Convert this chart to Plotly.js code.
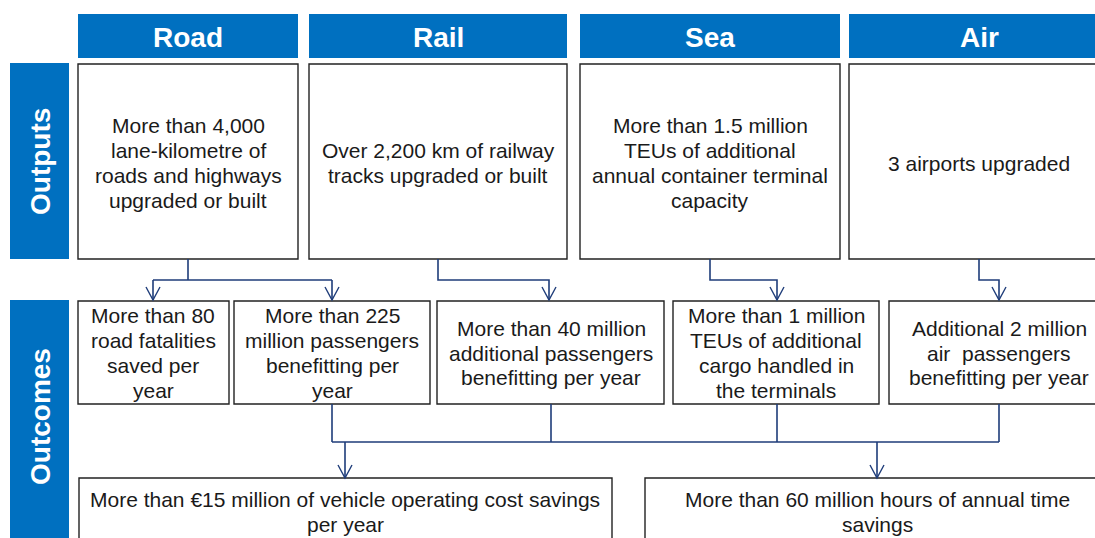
<!DOCTYPE html>
<html>
<head>
<meta charset="utf-8">
<script src="https://cdn.plot.ly/plotly-3.0.1.min.js"></script>
<style>html,body{margin:0;padding:0;background:#fff;}#chart{width:1095px;height:538px;}</style>
</head>
<body>
<div id="chart"></div>
<script>
// ---- content ----
const modes = ["Road", "Rail", "Sea", "Air"];
const rowLabels = ["Outputs", "Outcomes"];
const outputs = [
  "More than 4,000<br>lane-kilometre of<br>roads and highways<br>upgraded or built",
  "Over 2,200 km of railway<br>tracks upgraded or built",
  "More than 1.5 million<br>TEUs of additional<br>annual container terminal<br>capacity",
  "3 airports upgraded"
];
const outcomes = [
  "More than 80<br>road fatalities<br>saved per<br>year",
  "More than 225<br>million passengers<br>benefitting per<br>year",
  "More than 40 million<br>additional passengers<br>benefitting per year",
  "More than 1 million<br>TEUs of additional<br>cargo handled in<br>the terminals",
  "Additional 2 million<br>air  passengers<br>benefitting per year"
];
const impacts = [
  "More than €15 million of vehicle operating cost savings<br>per year",
  "More than 60 million hours of annual time<br>savings"
];

// ---- layout geometry ----
const BLUE = "#0070C0", NAVY = "#1F3D7A", INK = "#1a1a1a";
const FONT = "Liberation Sans, Arial, sans-serif";
const headerX = [[78, 298], [309, 567], [580, 840], [849, 1100]];
const headerTextX = [188, 438, 710, 979];
const headerY = [14, 58];
const outY = [64, 259];
const sideX = [10, 69];
const sideY = [[63, 259], [300, 545]];
const sideTextY = [162, 417];
const ocX = [[78, 229], [234, 430], [437, 664], [673, 879], [889, 1100]];
const ocY = [301, 404];
const imX = [[79, 612], [645, 1110]];
const imY = [478, 548];
const LINE = 24.8, BODY = 21;

const shapes = [];
const ann = [];
function rect(x0, x1, y0, y1, fill, line, lw) {
  shapes.push({type: "rect", xref: "x", yref: "y", x0, x1, y0, y1,
    fillcolor: fill, line: {color: line, width: lw}, layer: "below"});
}
function path(d, w) {
  shapes.push({type: "path", xref: "x", yref: "y", path: d, line: {color: NAVY, width: w || 1.6}});
}
function text(t, x, y, size, color, bold, angle) {
  ann.push({text: bold ? "<b>" + t + "</b>" : t, x, y, xref: "x", yref: "y", showarrow: false,
    xanchor: "center", yanchor: "middle", textangle: angle || 0,
    font: {family: FONT, size, color}});
}
function block(t, x, yc) {
  const lines = t.split("<br>");
  const y0 = yc - (lines.length - 1) * LINE / 2;
  lines.forEach((l, k) => text(l, x, y0 + k * LINE, BODY, INK));
}
function arrow(x, y) {
  path(`M${x - 7},${y - 13} L${x},${y} L${x + 7},${y - 13}`, 1.4);
}

// headers
modes.forEach((m, i) => {
  const [a, b] = headerX[i];
  rect(a, b, headerY[0], headerY[1], BLUE, BLUE, 0);
  text(m, headerTextX[i], 37, 28, "#fff", true);
});
// side labels
rowLabels.forEach((r, i) => {
  rect(sideX[0], sideX[1], sideY[i][0], sideY[i][1], BLUE, BLUE, 0);
  text(r, 40, sideTextY[i], 28, "#fff", true, -90);
});

// output boxes
const outTextX = [188, 438, 710, 979];
outputs.forEach((t, i) => {
  const [a, b] = headerX[i];
  rect(a, b, outY[0], outY[1], "#fff", "#222", 1.4);
  block(t, outTextX[i], 163);
});
// outcome boxes
const ocTextX = [153, 332, 551, 776, 999];
outcomes.forEach((t, i) => {
  const [a, b] = ocX[i];
  rect(a, b, ocY[0], ocY[1], "#fff", "#222", 1.4);
  block(t, ocTextX[i], 353);
});
// impact boxes
const imTextX = [345, 877];
impacts.forEach((t, i) => {
  const [a, b] = imX[i];
  rect(a, b, imY[0], imY[1], "#fff", "#222", 1.4);
  block(t, imTextX[i], 512);
});

// connectors: outputs -> outcomes
path("M188,259 V280 M153,280 H332 M153,280 V300 M332,280 V300");
path("M438,259 V280 H549 V300");
path("M710,259 V280 H777 V300");
path("M979,259 V280 H999 V300");
[153, 332, 549, 777, 999].forEach(x => arrow(x, 300));
// outcomes -> impacts
path("M332,404 V442 M551,404 V442 M777,404 V442 M999,404 V442 M332,442 H999 M345,442 V477 M877,442 V477");
[345, 877].forEach(x => arrow(x, 478));

const layout = {
  width: 1095, height: 538,
  margin: {l: 0, r: 0, t: 0, b: 0},
  paper_bgcolor: "#fff", plot_bgcolor: "#fff",
  xaxis: {range: [0, 1095], visible: false, fixedrange: true},
  yaxis: {range: [538, 0], visible: false, fixedrange: true},
  showlegend: false,
  shapes, annotations: ann
};
Plotly.newPlot("chart", [{x: [], y: [], type: "scatter", hoverinfo: "skip"}], layout, {staticPlot: true, displayModeBar: false});
</script>
</body>
</html>
